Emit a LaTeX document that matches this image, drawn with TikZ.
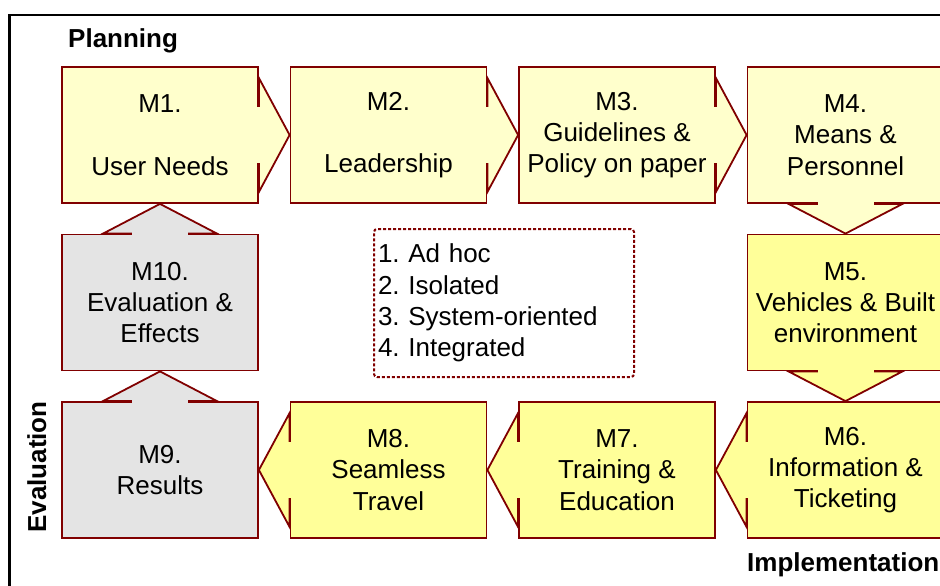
\documentclass[tikz,border=0pt]{standalone}
\usepackage{fontspec}
\setmainfont{Liberation Sans}
\usetikzlibrary{calc}
\frenchspacing

\definecolor{stageborder}{HTML}{800000}
\definecolor{planfill}{HTML}{FFFFCC}
\definecolor{implfill}{HTML}{FFFF99}
\definecolor{evalfill}{HTML}{E4E4E4}

% Horizontal link: triangle from the side of #1 to the side of #3, opened into #1
\newcommand{\hlink}[5]{%
  \draw[linkline, fill=#5] ($(#1.#2)+(0,-57)$) -- (#3.#4) -- ($(#1.#2)+(0,57)$) -- cycle;
  \fill[#5] ($(#1.#2)+(-1.7,-28)$) rectangle ($(#1.#2)+(1.7,28)$);
}
% Vertical link: same, pointing up or down
\newcommand{\vlink}[5]{%
  \draw[linkline, fill=#5] ($(#1.#2)+(-57,0)$) -- (#3.#4) -- ($(#1.#2)+(57,0)$) -- cycle;
  \fill[#5] ($(#1.#2)+(-28,-1.7)$) rectangle ($(#1.#2)+(28,1.7)$);
}

\begin{document}
\begin{tikzpicture}[x=1pt, y=-1pt,
  stage/.style={draw=stageborder, line width=1.8pt, minimum width=196pt,
    minimum height=136pt, inner sep=0pt, align=center,
    font=\fontsize{26}{31.3}\selectfont},
  planstage/.style={stage, fill=planfill},
  implstage/.style={stage, fill=implfill},
  evalstage/.style={stage, fill=evalfill},
  linkline/.style={draw=stageborder, line width=1.8pt, line join=miter},
  phase/.style={font=\fontsize{26}{31.3}\selectfont\bfseries, inner sep=0pt},
  legendbox/.style={draw=stageborder, line width=2pt, dash pattern=on 3pt off 2pt,
    rounded corners=3pt, text width=252pt, inner xsep=4pt, inner ysep=0pt,
    minimum height=148pt, align=left, font=\fontsize{26}{31.3}\selectfont}
]
\useasboundingbox (0,0) rectangle (940,586);
\clip (0,0) rectangle (940,586);

% outer frame
\draw[line width=2.8pt] (9.5,700) -- (9.5,15) -- (1000,15);

% stages
\node[planstage] (m1) at (160,135)   {M1.\\\strut\\User Needs};
\node[planstage] (m2) at (388.5,135) {M2.\\\strut\\Leadership};
\node[planstage] (m3) at (617,135)   {M3.\\Guidelines \&\\Policy on paper};
\node[planstage] (m4) at (845.5,135) {M4.\\Means \&\\Personnel};
\node[implstage] (m5) at (845.5,302.5) {M5.\\Vehicles \& Built\\environment};
\node[implstage] (m6) at (845.5,470) {M6.\\Information \&\\Ticketing};
\node[implstage] (m7) at (617,470)   {M7.\\Training \&\\Education};
\node[implstage] (m8) at (388.5,470) {M8.\\Seamless\\Travel};
\node[evalstage] (m9) at (160,470)   {M9.\\Results};
\node[evalstage] (m10) at (160,302.5) {M10.\\Evaluation \&\\Effects};

% links between stages
\hlink{m1}{east}{m2}{west}{planfill}
\hlink{m2}{east}{m3}{west}{planfill}
\hlink{m3}{east}{m4}{west}{planfill}
\vlink{m4}{south}{m5}{north}{planfill}
\vlink{m5}{south}{m6}{north}{implfill}
\hlink{m6}{west}{m7}{east}{implfill}
\hlink{m7}{west}{m8}{east}{implfill}
\hlink{m8}{west}{m9}{east}{implfill}
\vlink{m9}{north}{m10}{south}{evalfill}
\vlink{m10}{north}{m1}{south}{evalfill}

% maturity levels
\node[legendbox] (levels) at (504,303)
  {1. Ad hoc\\2. Isolated\\3. System-oriented\\4. Integrated};

% phase labels
\node[phase, anchor=base west] (planning) at (68,48) {Planning};
\node[phase, anchor=base, rotate=90] (evaluation) at (46,467) {Evaluation};
\node[phase, anchor=base west] (implementation) at (747,571) {Implementation};
\end{tikzpicture}
\end{document}
